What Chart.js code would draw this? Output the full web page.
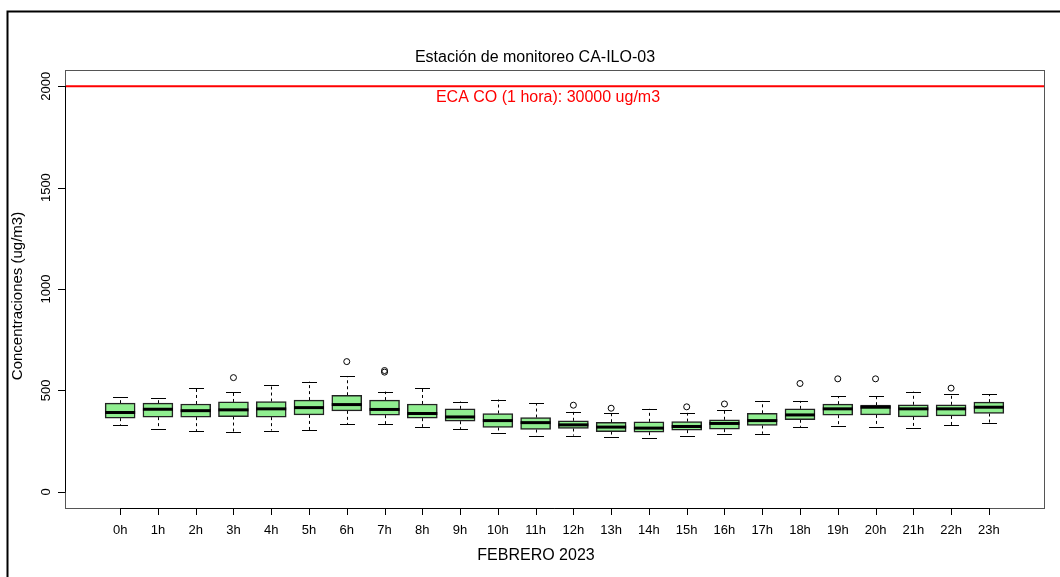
<!DOCTYPE html>
<html>
<head>
<meta charset="utf-8">
<title>Estación de monitoreo CA-ILO-03</title>
<script src="https://cdn.jsdelivr.net/npm/chart.js@4/dist/chart.umd.min.js"></script>
<style>
  html, body { margin: 0; padding: 0; background: #fff; }
  canvas { display: block; }
</style>
</head>
<body>
<canvas id="boxChart" width="1060" height="577"></canvas>
<script>
// Tick labels for the hours of the day
const hourLabels = ['0h', '1h', '2h', '3h', '4h', '5h', '6h', '7h', '8h', '9h', '10h', '11h',
  '12h', '13h', '14h', '15h', '16h', '17h', '18h', '19h', '20h', '21h', '22h', '23h'];

// Box plot statistics per hour (ug/m3)
const lowerWhisker = [330, 309, 300, 297, 302, 305, 332, 333, 320, 310, 289, 277, 277, 269, 266, 273, 283, 286, 320, 324, 320, 314, 327, 338];
const q1 = [363, 368, 368, 371, 368, 379, 399, 378, 363, 348, 317, 307, 312, 297, 294, 304, 309, 327, 355, 378, 379, 369, 374, 386];
const median = [391, 407, 400, 404, 409, 415, 430, 406, 386, 369, 351, 341, 330, 319, 314, 322, 337, 351, 379, 409, 417, 409, 409, 417];
const q3 = [437, 437, 433, 443, 445, 452, 476, 452, 433, 409, 386, 366, 350, 343, 345, 346, 355, 387, 409, 432, 427, 429, 429, 442];
const upperWhisker = [466, 461, 514, 491, 529, 543, 571, 494, 514, 445, 455, 437, 394, 389, 409, 389, 401, 448, 448, 470, 473, 494, 484, 481];

// Outliers: hour index and value
const outlierHour = [3, 6, 7, 7, 12, 13, 15, 16, 18, 19, 20, 22];
const outlierValue = [563, 642, 590, 598, 427, 412, 419, 433, 534, 557, 557, 511];

// Y axis ticks and the reference limit
const yTicks = [0, 500, 1000, 1500, 2000];
const limitValue = 2000;
const limitLabel = 'ECA CO (1 hora): 30000 ug/m3';

const FONT = '"Liberation Sans", Arial, sans-serif';

// Plugin that draws the R-style frame, axes, whiskers, medians and texts
const boxplotDecor = {
  id: 'boxplotDecor',
  beforeDatasetsDraw(chart) {
    const { ctx, chartArea: a, scales: { x, y } } = chart;
    ctx.save();

    // outer figure frame
    ctx.strokeStyle = '#000';
    ctx.lineWidth = 2;
    ctx.strokeRect(7.5, 11.5, 1080, 600);

    // reference line
    const yl = y.getPixelForValue(limitValue);
    ctx.strokeStyle = '#ff0000';
    ctx.lineWidth = 2;
    ctx.beginPath();
    ctx.moveTo(a.left, yl);
    ctx.lineTo(a.right, yl);
    ctx.stroke();

    // whiskers (dashed) and caps
    ctx.strokeStyle = '#000';
    ctx.lineWidth = 1;
    hourLabels.forEach((h, i) => {
      const px = Math.round(x.getPixelForValue(i)) + 0.5;
      ctx.setLineDash([3, 3]);
      ctx.beginPath();
      ctx.moveTo(px, y.getPixelForValue(q3[i]));
      ctx.lineTo(px, y.getPixelForValue(upperWhisker[i]));
      ctx.moveTo(px, y.getPixelForValue(q1[i]));
      ctx.lineTo(px, y.getPixelForValue(lowerWhisker[i]));
      ctx.stroke();
      ctx.setLineDash([]);
      ctx.beginPath();
      const yu = Math.round(y.getPixelForValue(upperWhisker[i])) + 0.5;
      const yd = Math.round(y.getPixelForValue(lowerWhisker[i])) + 0.5;
      ctx.moveTo(px - 7.5, yu);
      ctx.lineTo(px + 7.5, yu);
      ctx.moveTo(px - 7.5, yd);
      ctx.lineTo(px + 7.5, yd);
      ctx.stroke();
    });
    ctx.restore();
  },
  afterDatasetsDraw(chart) {
    const { ctx, chartArea: a, scales: { x, y } } = chart;
    ctx.save();

    // medians
    ctx.strokeStyle = '#000';
    ctx.lineWidth = 3;
    hourLabels.forEach((h, i) => {
      const px = x.getPixelForValue(i);
      const py = y.getPixelForValue(median[i]);
      ctx.beginPath();
      ctx.moveTo(px - 15, py);
      ctx.lineTo(px + 15, py);
      ctx.stroke();
    });

    // plot box
    ctx.strokeStyle = '#555';
    ctx.lineWidth = 1;
    ctx.strokeRect(a.left + 0.5, a.top + 0.5, a.right - a.left, a.bottom - a.top);

    // y axis
    ctx.strokeStyle = '#000';
    ctx.fillStyle = '#000';
    ctx.beginPath();
    ctx.moveTo(a.left + 0.5, y.getPixelForValue(yTicks[0]));
    ctx.lineTo(a.left + 0.5, y.getPixelForValue(yTicks[yTicks.length - 1]));
    yTicks.forEach(v => {
      const py = Math.round(y.getPixelForValue(v)) + 0.5;
      ctx.moveTo(a.left + 0.5, py);
      ctx.lineTo(a.left - 7, py);
    });
    ctx.stroke();
    ctx.font = '13px ' + FONT;
    ctx.textAlign = 'center';
    ctx.textBaseline = 'alphabetic';
    yTicks.forEach(v => {
      ctx.save();
      ctx.translate(50, y.getPixelForValue(v));
      ctx.rotate(-Math.PI / 2);
      ctx.fillText(String(v), 0, 0);
      ctx.restore();
    });

    // x axis
    ctx.beginPath();
    ctx.moveTo(x.getPixelForValue(0), a.bottom + 0.5);
    ctx.lineTo(x.getPixelForValue(hourLabels.length - 1), a.bottom + 0.5);
    hourLabels.forEach((h, i) => {
      const px = Math.round(x.getPixelForValue(i)) + 0.5;
      ctx.moveTo(px, a.bottom);
      ctx.lineTo(px, a.bottom + 7);
    });
    ctx.stroke();
    hourLabels.forEach((h, i) => {
      ctx.fillText(h, x.getPixelForValue(i), 534);
    });

    // titles
    ctx.font = '16px ' + FONT;
    ctx.fillText('Estación de monitoreo CA-ILO-03', 535, 62);
    ctx.fillText('FEBRERO 2023', 536, 560);
    ctx.save();
    ctx.font = '15px ' + FONT;
    ctx.translate(22, 296);
    ctx.rotate(-Math.PI / 2);
    ctx.fillText('Concentraciones (ug/m3)', 0, 0);
    ctx.restore();

    // limit label
    ctx.fillStyle = '#ff0000';
    ctx.fillText(limitLabel, 548, 102);
    ctx.restore();
  }
};

const ctx = document.getElementById('boxChart').getContext('2d');
window.boxChart = new Chart(ctx, {
  type: 'bar',
  data: {
    datasets: [
      {
        label: 'Caja',
        data: hourLabels.map((h, i) => ({ x: i, y: [q1[i], q3[i]] })),
        backgroundColor: '#90ee90',
        borderColor: '#222',
        borderWidth: 1.5,
        borderSkipped: false,
        barThickness: 30,
        grouped: false,
      },
      {
        type: 'scatter',
        label: 'Atípicos',
        data: outlierHour.map((h, i) => ({ x: h, y: outlierValue[i] })),
        pointStyle: 'circle',
        pointRadius: 3,
        backgroundColor: 'rgba(0,0,0,0)',
        borderColor: '#000',
        borderWidth: 1,
      },
    ],
  },
  options: {
    responsive: false,
    animation: false,
    layout: { padding: { left: 65, top: 70, right: 16, bottom: 69 } },
    plugins: { legend: { display: false }, tooltip: { enabled: false }, title: { display: false } },
    scales: {
      x: { type: 'linear', display: false, offset: false, min: -1.46, max: 24.46 },
      y: { type: 'linear', display: false, min: -80, max: 2080 },
    },
  },
  plugins: [boxplotDecor],
});
</script>
</body>
</html>
